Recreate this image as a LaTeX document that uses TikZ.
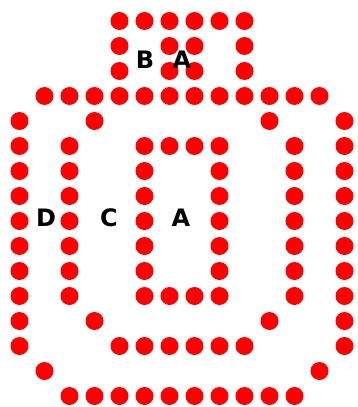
\documentclass[tikz,border=0pt]{standalone}
\usepackage{fontspec}
\setmainfont{DejaVu Sans}
\definecolor{beadred}{HTML}{FF0000}
\tikzset{
  bead/.style={fill=beadred},
  lbl/.style={font=\fontsize{24}{28}\selectfont\bfseries, text=black, inner sep=0pt}
}
\begin{document}
\begin{tikzpicture}[x=25pt,y=-25pt]
  \useasboundingbox (-0.78,-0.84) rectangle (13.5,15.44);
  % small box on top
  \foreach \c in {4,...,9}
    {\fill[bead] (\c,0) circle (9pt);}
  \foreach \r in {1,2}
    \foreach \c in {4,6,7,9}
      {\fill[bead] (\c,\r) circle (9pt);}
  % outer ring
  \foreach \c in {1,...,12}
    {\fill[bead] (\c,3) circle (9pt);}
  \foreach \c in {2,...,11}
    {\fill[bead] (\c,15) circle (9pt);}
  \foreach \c in {0,3,10,13}
    {\fill[bead] (\c,4) circle (9pt);
     \fill[bead] (\c,12) circle (9pt);}
  \foreach \c in {0,4,5,6,7,8,9,13}
    {\fill[bead] (\c,13) circle (9pt);}
  \foreach \c in {1,12}
    {\fill[bead] (\c,14) circle (9pt);}
  % columns
  \foreach \r in {5,...,11}
    \foreach \c in {0,2,5,8,11,13}
      {\fill[bead] (\c,\r) circle (9pt);}
  \foreach \r in {5,11}
    \foreach \c in {6,7}
      {\fill[bead] (\c,\r) circle (9pt);}
  % labels
  \node[lbl] (lblB) at (5.02,1.56) {B};
  \node[lbl] (lblAtop) at (6.5,1.56) {A};
  \node[lbl] (lblD) at (1.06,7.88) {D};
  \node[lbl] (lblC) at (3.58,7.88) {C};
  \node[lbl] (lblA) at (6.46,7.88) {A};
\end{tikzpicture}
\end{document}
